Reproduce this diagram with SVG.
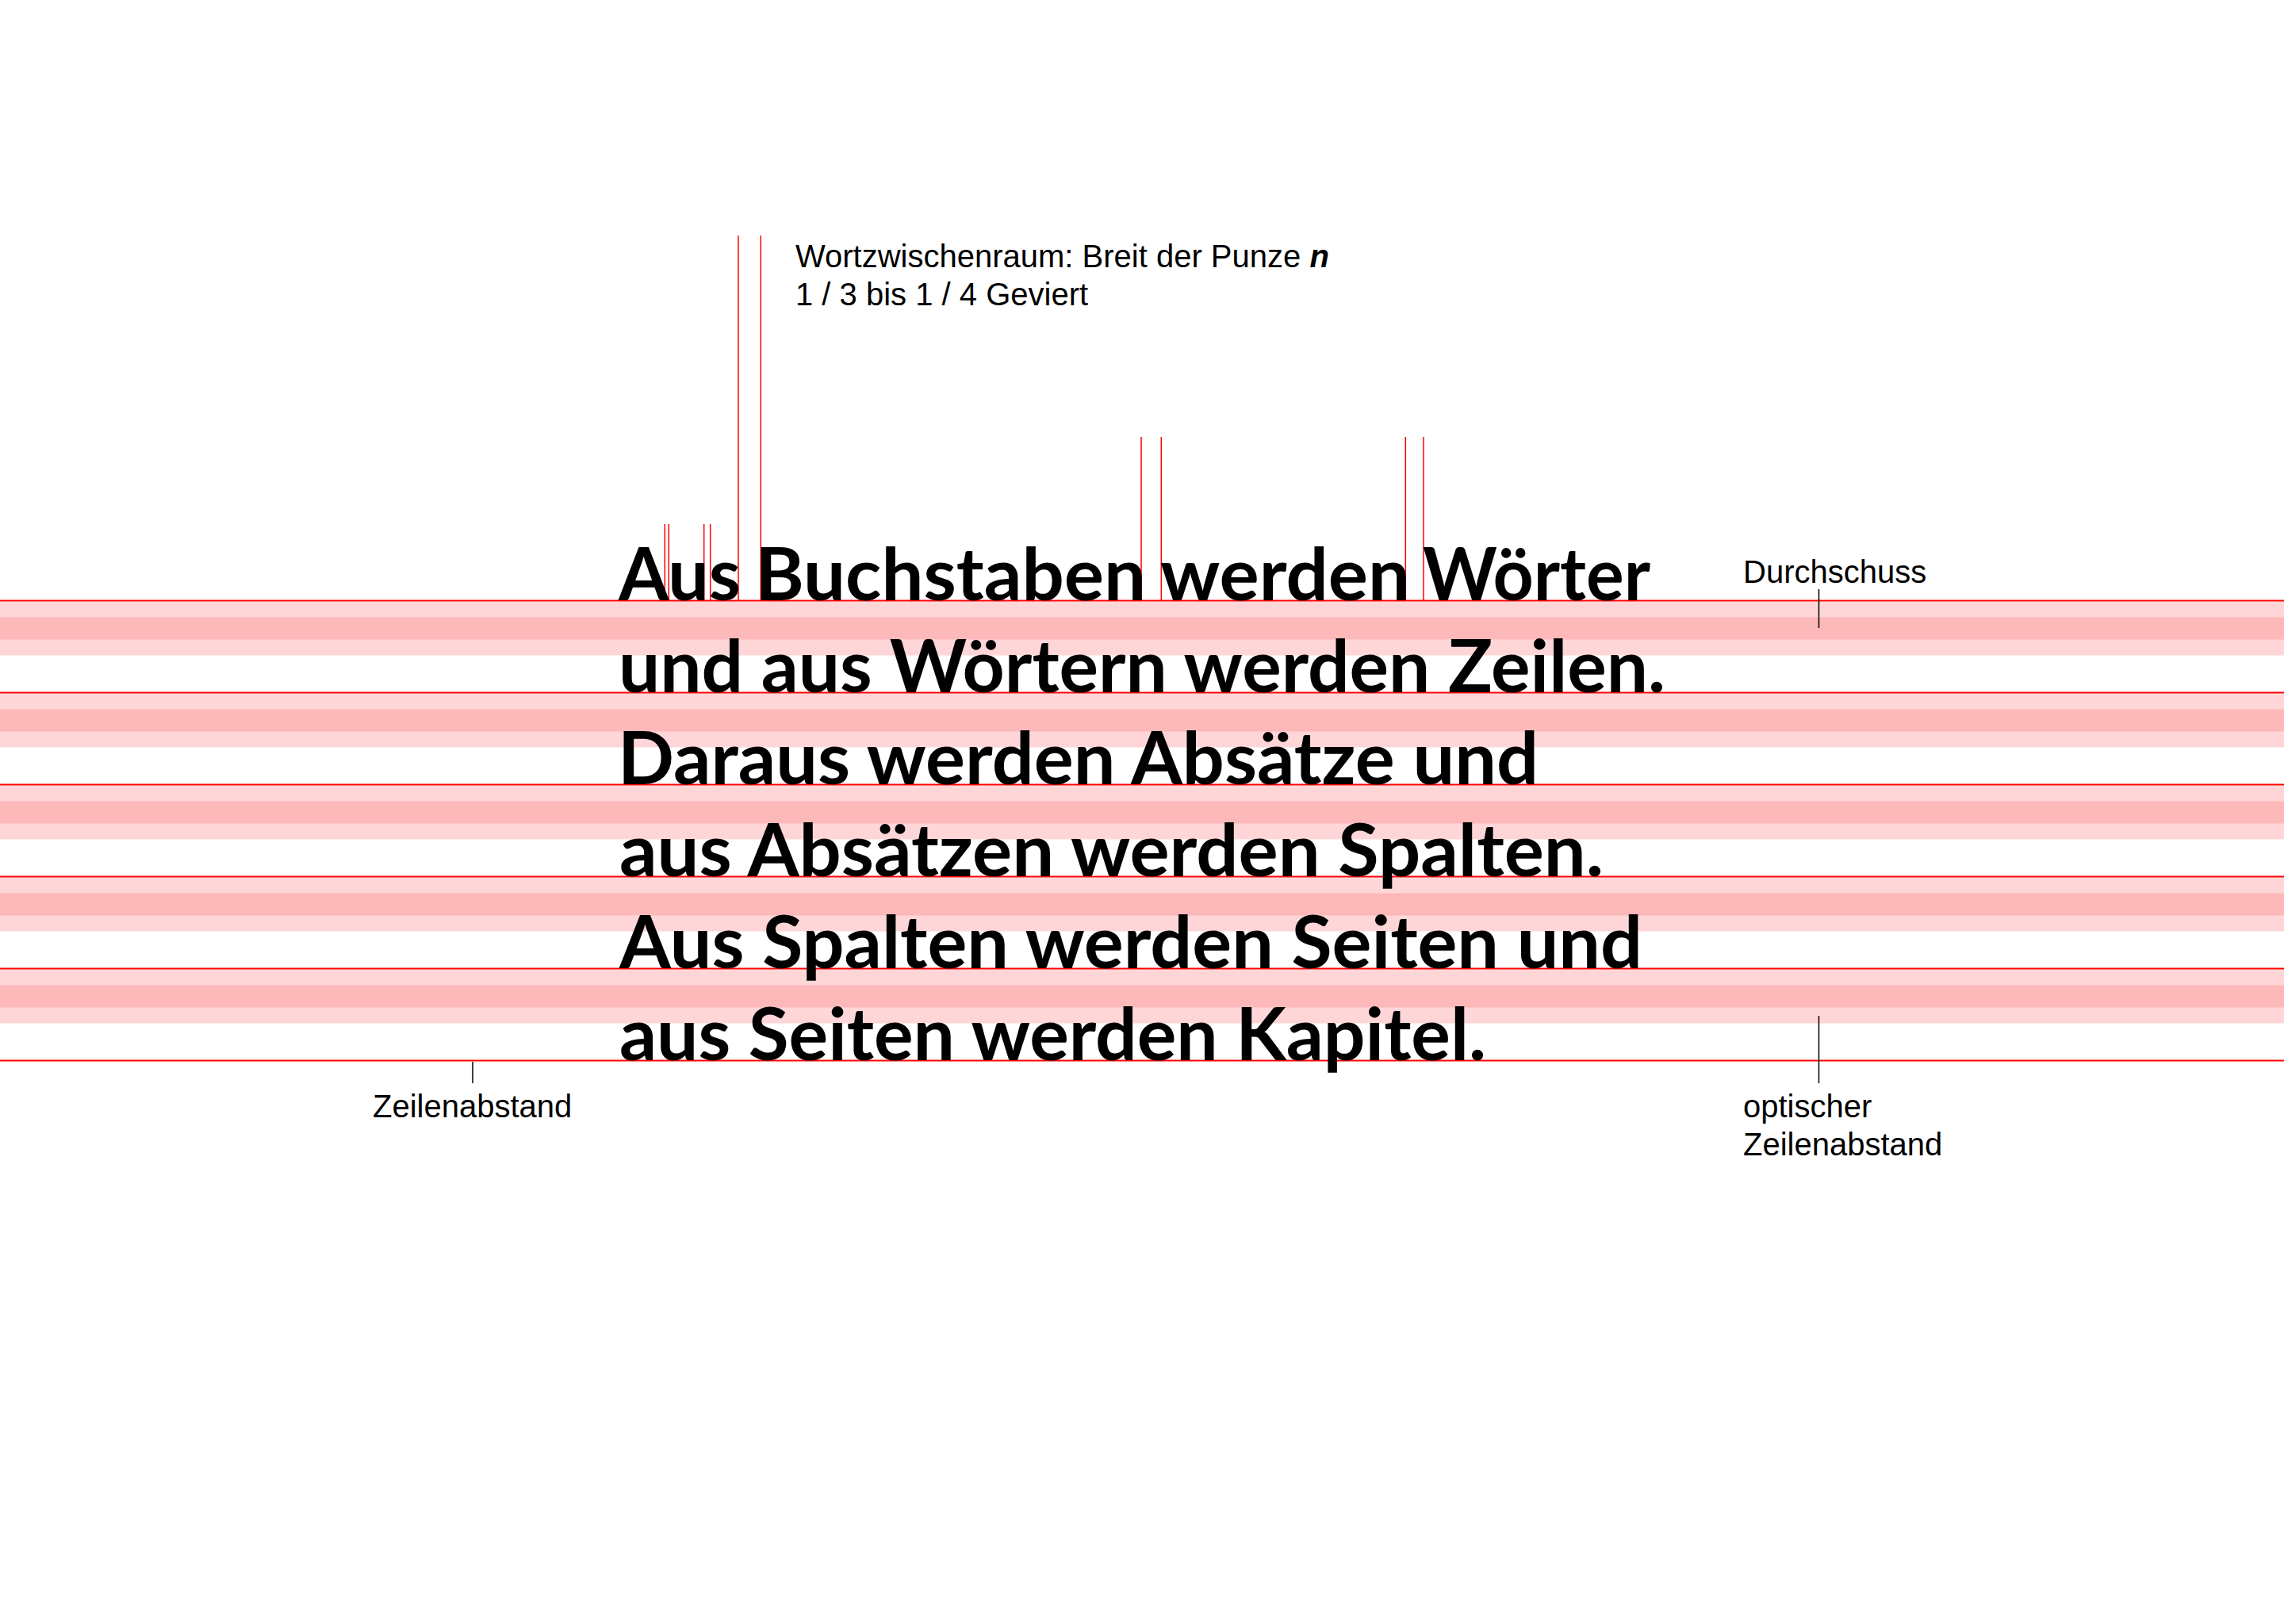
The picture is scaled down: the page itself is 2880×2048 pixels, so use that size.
<svg xmlns="http://www.w3.org/2000/svg" width="2880" height="2048" viewBox="0 0 2880 2048">
<style>
.lbl{font-family:"Liberation Sans",Arial,sans-serif;font-size:40px;fill:#000}
.main{font-family:Lato,"Open Sans",sans-serif;font-weight:700;font-size:91px;fill:#000}
.rl{stroke:#ff0000;stroke-width:2;fill:none}
.vl{stroke:#ff0000;stroke-width:1.5;fill:none}
.tick{stroke:#000;stroke-width:1.5;fill:none}
.lp{fill:#ffd6d8}
.dp{fill:#fdb8b9}
</style>
<rect x="0" y="0" width="2880" height="2048" fill="#fff"/>
<g id="bands">
<rect class="lp" x="0" y="758.5" width="2880" height="68"/>
<rect class="dp" x="0" y="778.5" width="2880" height="28"/>
<rect class="lp" x="0" y="874.5" width="2880" height="68"/>
<rect class="dp" x="0" y="894.5" width="2880" height="28"/>
<rect class="lp" x="0" y="990.5" width="2880" height="68"/>
<rect class="dp" x="0" y="1010.5" width="2880" height="28"/>
<rect class="lp" x="0" y="1106.5" width="2880" height="68"/>
<rect class="dp" x="0" y="1126.5" width="2880" height="28"/>
<rect class="lp" x="0" y="1222.5" width="2880" height="68"/>
<rect class="dp" x="0" y="1242.5" width="2880" height="28"/>
</g>
<g id="connectors">
<line class="rl" x1="0" y1="757.5" x2="2880" y2="757.5"/>
<line class="rl" x1="0" y1="873.5" x2="2880" y2="873.5"/>
<line class="rl" x1="0" y1="989.5" x2="2880" y2="989.5"/>
<line class="rl" x1="0" y1="1105.5" x2="2880" y2="1105.5"/>
<line class="rl" x1="0" y1="1221.5" x2="2880" y2="1221.5"/>
<line class="rl" x1="0" y1="1337.5" x2="2880" y2="1337.5"/>
<line class="vl" x1="838.3" y1="661" x2="838.3" y2="757"/>
<line class="vl" x1="843.3" y1="661" x2="843.3" y2="757"/>
<line class="vl" x1="887.7" y1="661" x2="887.7" y2="757"/>
<line class="vl" x1="895.7" y1="661" x2="895.7" y2="757"/>
<line class="vl" x1="931" y1="297" x2="931" y2="757"/>
<line class="vl" x1="959.3" y1="297" x2="959.3" y2="757"/>
<line class="vl" x1="1439" y1="551" x2="1439" y2="757"/>
<line class="vl" x1="1464.3" y1="551" x2="1464.3" y2="757"/>
<line class="vl" x1="1772.3" y1="551" x2="1772.3" y2="757"/>
<line class="vl" x1="1795" y1="551" x2="1795" y2="757"/>
<line class="tick" x1="2293.5" y1="743" x2="2293.5" y2="792"/>
<line class="tick" x1="2293.5" y1="1281" x2="2293.5" y2="1366"/>
<line class="tick" x1="596" y1="1339" x2="596" y2="1366"/>
</g>
<g id="main-text">
<text class="main" x="780" y="757" textLength="154" lengthAdjust="spacingAndGlyphs">Aus</text>
<text class="main" x="952" y="757" textLength="493" lengthAdjust="spacingAndGlyphs">Buchstaben</text>
<text class="main" x="1463" y="757" textLength="315" lengthAdjust="spacingAndGlyphs">werden</text>
<text class="main" x="1794" y="757" textLength="287" lengthAdjust="spacingAndGlyphs">Wörter</text>
<text class="main" x="780" y="873" textLength="1320" lengthAdjust="spacingAndGlyphs">und aus Wörtern werden Zeilen.</text>
<text class="main" x="779" y="989" textLength="1161" lengthAdjust="spacingAndGlyphs">Daraus werden Absätze und</text>
<text class="main" x="781" y="1105" textLength="1241" lengthAdjust="spacingAndGlyphs">aus Absätzen werden Spalten.</text>
<text class="main" x="781" y="1221" textLength="1290" lengthAdjust="spacingAndGlyphs">Aus Spalten werden Seiten und</text>
<text class="main" x="781" y="1337" textLength="1093" lengthAdjust="spacingAndGlyphs">aus Seiten werden Kapitel.</text>
</g>
<g id="label-wortzwischenraum">
<text class="lbl" x="1003" y="337">Wortzwischenraum: Breit der Punze <tspan font-weight="700" font-style="italic">n</tspan></text>
<text class="lbl" x="1003" y="385">1 / 3 bis 1 / 4 Geviert</text>
</g>
<g id="label-durchschuss">
<text class="lbl" x="2198" y="735">Durchschuss</text>
</g>
<g id="label-zeilenabstand">
<text class="lbl" x="470" y="1409">Zeilenabstand</text>
</g>
<g id="label-optischer">
<text class="lbl" x="2198" y="1409">optischer</text>
<text class="lbl" x="2198" y="1457">Zeilenabstand</text>
</g>
</svg>
